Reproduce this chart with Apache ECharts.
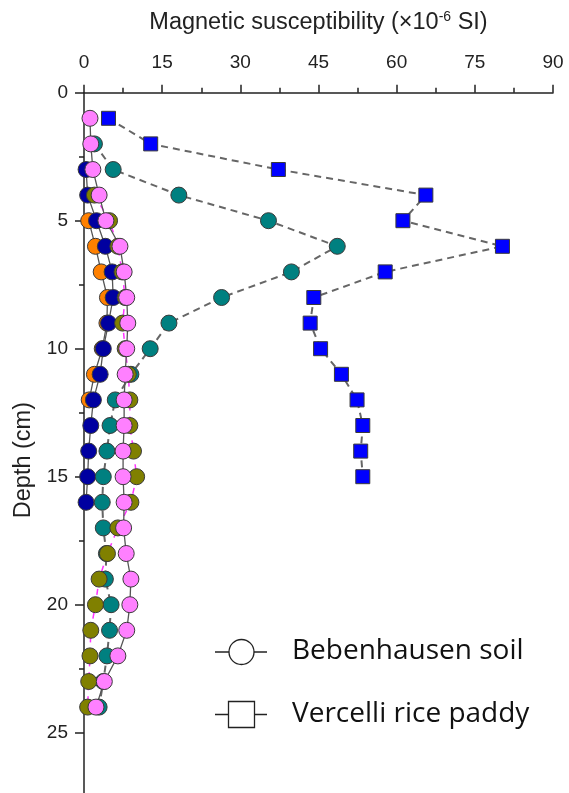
<!DOCTYPE html>
<html>
<head>
<meta charset="utf-8">
<script src="https://cdn.jsdelivr.net/npm/echarts@6/dist/echarts.min.js"></script>
<style>
  html, body { margin: 0; padding: 0; background: #fff; }
  #chart { width: 569px; height: 793px; }
</style>
</head>
<body>
<div id="chart"></div>
<script>
// Depth profiles of magnetic susceptibility (x10^-6 SI) against depth (cm)
const xTicks = [0, 15, 30, 45, 60, 75, 90];
const depthTicks = [0, 5, 10, 15, 20, 25];

// Vercelli rice paddy (squares)
const paddyDepth = [1, 2, 3, 4, 5, 6, 7, 8, 9, 10, 11, 12, 13, 14, 15];
const paddyValue = [4.7, 12.8, 37.3, 65.6, 61.2, 80.3, 57.8, 44.1, 43.4, 45.4, 49.4, 52.4, 53.5, 53.1, 53.5];

// Bebenhausen soil profiles (circles)
const orangeDepth = [5, 6, 7, 8, 9, 10, 11, 12];
const orangeValue = [0.9, 2.2, 3.3, 4.5, 4.4, 3.5, 2.0, 1.0];

const navyDepth = [3, 4, 5, 6, 7, 8, 9, 10, 11, 12, 13, 14, 15, 16];
const navyValue = [0.4, 0.7, 2.4, 4.1, 5.4, 5.6, 4.7, 3.7, 3.1, 1.8, 1.3, 0.9, 0.7, 0.4];

const tealDepth = [2, 3, 4, 5, 6, 7, 8, 9, 10, 11, 12, 13, 14, 15, 16, 17, 18, 19, 20, 21, 22, 23, 24];
const tealValue = [2.0, 5.6, 18.2, 35.4, 48.6, 39.8, 26.4, 16.3, 12.7, 9.0, 6.0, 5.0, 4.4, 3.7, 3.5, 3.7, 4.3, 4.1, 5.2, 4.9, 4.4, 3.7, 2.9];

const oliveDepth = [4, 5, 6, 7, 8, 9, 10, 11, 12, 13, 14, 15, 16, 17, 18, 19, 20, 21, 22, 23, 24];
const oliveValue = [2.0, 4.9, 6.5, 7.3, 7.9, 7.4, 7.9, 8.5, 8.8, 8.8, 9.5, 10.1, 9.0, 6.5, 4.5, 2.9, 2.2, 1.3, 1.15, 0.9, 0.7];

const pinkDepth = [1, 2, 3, 4, 5, 6, 7, 8, 9, 10, 11, 12, 13, 14, 15, 16, 17, 18, 19, 20, 21, 22, 23, 24];
const pinkValue = [1.15, 1.3, 1.7, 2.9, 4.2, 6.9, 7.7, 8.2, 8.4, 8.2, 7.9, 7.7, 7.7, 7.5, 7.5, 7.7, 7.6, 8.1, 9.0, 8.8, 8.2, 6.5, 3.9, 2.3];

const legendNames = ['Bebenhausen soil', 'Vercelli rice paddy'];

function pairs(vals, depths) {
  return vals.map((v, i) => [v, depths[i]]);
}

function profile(name, vals, depths, color, symbol, size, line) {
  return {
    type: 'line',
    name: name,
    data: pairs(vals, depths),
    symbol: symbol,
    symbolSize: size,
    showAllSymbol: true,
    animation: false,
    itemStyle: { color: color, borderColor: '#3a3a3a', borderWidth: 1 },
    lineStyle: line,
    emphasis: { disabled: true }
  };
}

const grayDash = { color: '#666', width: 2, type: [7, 5] };
const graySolid = { color: '#555', width: 1.3 };
const magentaDash = { color: '#ff33ff', width: 1.5, type: [6, 6] };

const AX = '#222';
const chart = echarts.init(document.getElementById('chart'), null, { renderer: 'canvas' });

chart.setOption({
  backgroundColor: '#fff',
  animation: false,
  // depth axis runs 0..28 cm at 25.6 px per cm; its lower end sits just below the page
  grid: { left: 84, top: 92.7, width: 469, height: 716.8, containLabel: false, outerBoundsMode: 'none' },
  xAxis: {
    type: 'value',
    position: 'top',
    min: xTicks[0],
    max: xTicks[xTicks.length - 1],
    interval: 15,
    name: '{a|Magnetic susceptibility (×10}{s|-6}{a| SI)}',
    nameLocation: 'middle',
    nameGap: 57,
    nameTextStyle: {
      rich: {
        a: { fontFamily: 'Liberation Sans', fontSize: 23.5, color: AX },
        s: { fontFamily: 'Liberation Sans', fontSize: 14, color: AX, verticalAlign: 'bottom', padding: [0, 0, 12, 0] }
      }
    },
    axisLine: { show: true, lineStyle: { color: AX, width: 1.5 } },
    axisTick: { show: true, inside: false, length: 8, lineStyle: { color: AX, width: 1.5 } },
    minorTick: { show: true, splitNumber: 2, length: 5, lineStyle: { color: AX, width: 1.5 } },
    axisLabel: { fontFamily: 'Liberation Sans', fontSize: 19, color: AX, margin: 20 },
    splitLine: { show: false }
  },
  yAxis: {
    type: 'value',
    inverse: true,
    min: 0,
    max: 28,
    interval: 5,
    name: 'Depth (cm)',
    nameLocation: 'middle',
    nameGap: 47,
    nameTextStyle: { fontFamily: 'Liberation Sans', fontSize: 23.5, color: AX, padding: [0, 18, 0, 0] },
    axisLine: { show: true, lineStyle: { color: AX, width: 1.5 } },
    axisTick: { show: true, inside: false, length: 9, lineStyle: { color: AX, width: 1.5 } },
    minorTick: { show: true, splitNumber: 2, length: 5, lineStyle: { color: AX, width: 1.5 } },
    axisLabel: {
      fontFamily: 'Liberation Sans', fontSize: 19, color: AX, margin: 16,
      formatter: v => (depthTicks.indexOf(v) >= 0 ? String(v) : '')
    },
    splitLine: { show: false }
  },
  series: [
    profile('Vercelli paddy', paddyValue, paddyDepth, '#0000ff', 'rect', 14, grayDash),
    profile('orange', orangeValue, orangeDepth, '#ff8000', 'circle', 16, graySolid),
    profile('navy', navyValue, navyDepth, '#0000a0', 'circle', 16, graySolid),
    profile('teal', tealValue, tealDepth, '#008080', 'circle', 16, grayDash),
    profile('olive', oliveValue, oliveDepth, '#808000', 'circle', 16, magentaDash),
    profile('pink', pinkValue, pinkDepth, '#ff80ff', 'circle', 16, graySolid)
  ],
  graphic: [
    { type: 'line', shape: { x1: 215, y1: 652, x2: 267, y2: 652 }, style: { stroke: '#222', lineWidth: 1.3 } },
    { type: 'circle', shape: { cx: 241.5, cy: 652, r: 12.5 }, style: { fill: '#fff', stroke: '#222', lineWidth: 1.3 } },
    { type: 'text', x: 292, y: 651, style: { text: legendNames[0], fontFamily: 'Open Sans', fontSize: 28, fill: '#111', verticalAlign: 'middle' } },
    { type: 'line', shape: { x1: 215, y1: 714.5, x2: 267, y2: 714.5 }, style: { stroke: '#222', lineWidth: 1.3 } },
    { type: 'rect', shape: { x: 228.5, y: 701.5, width: 26, height: 26 }, style: { fill: '#fff', stroke: '#222', lineWidth: 1.3 } },
    { type: 'text', x: 292, y: 714, style: { text: legendNames[1], fontFamily: 'Open Sans', fontSize: 28, fill: '#111', verticalAlign: 'middle' } }
  ]
});
</script>
</body>
</html>
